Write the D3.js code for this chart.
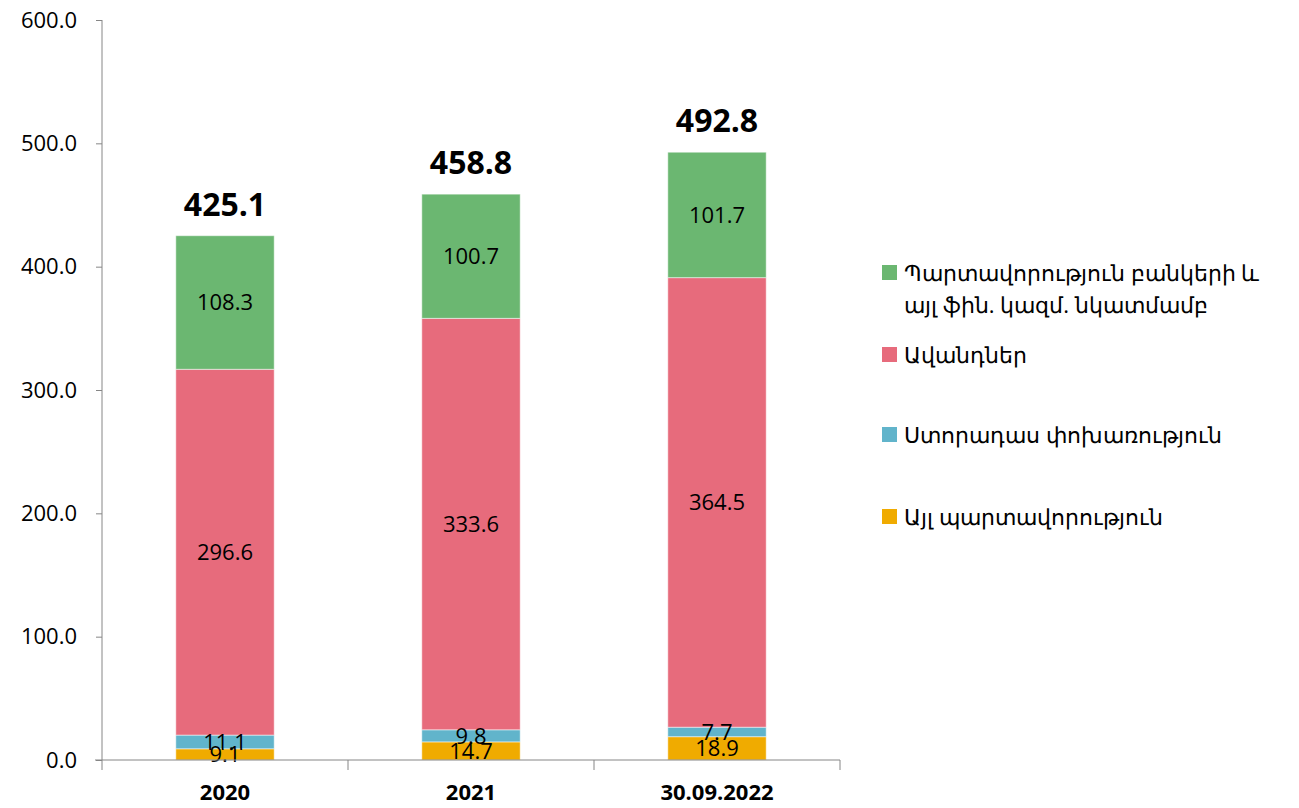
<!DOCTYPE html>
<html>
<head>
<meta charset="utf-8">
<script src="https://cdn.jsdelivr.net/npm/d3@7"></script>
<style>
  body { margin: 0; background: #fff; }
  text { font-family: "Open Sans", sans-serif; }
</style>
</head>
<body>
<div id="vis"></div>
<script>
const categories = ["2020", "2021", "30.09.2022"];
const seriesNames = [
    "Այլ պարտավորություն",
    "Ստորադաս փոխառություն",
    "Ավանդներ",
    "Պարտավորություն բանկերի և այլ ֆին. կազմ. նկատմամբ"
];
const otherLiab = [9.1, 14.7, 18.9];
const subordLoans = [11.1, 9.8, 7.7];
const deposits = [296.6, 333.6, 364.5];
const bankLiab = [108.3, 100.7, 101.7];
const totals = [425.1, 458.8, 492.8];
const yTicks = [0, 100, 200, 300, 400, 500, 600];
const colors = ["#f0ab00", "#61b4cb", "#e76b7c", "#6bb771"];

const width = 1299, height = 808;
const x0 = 102, x1 = 840, yTop = 20, yBottom = 760;

const svg = d3.select("#vis").append("svg")
    .attr("width", width)
    .attr("height", height);

const xScale = d3.scaleBand().domain(categories).range([x0, x1]).paddingInner(0.6).paddingOuter(0.3);
const yScale = d3.scaleLinear().domain([0, 600]).range([yBottom, yTop]);

// stack rows
const rows = categories.map((c, i) => ({
    cat: c, s0: otherLiab[i], s1: subordLoans[i], s2: deposits[i], s3: bankLiab[i]
}));
const stack = d3.stack().keys(["s0", "s1", "s2", "s3"]);
const layers = stack(rows);

// y axis
const yAxis = svg.append("g")
    .attr("transform", `translate(${x0},0)`)
    .call(d3.axisLeft(yScale).tickValues(yTicks).tickFormat(d3.format(".1f")).tickSize(6).tickPadding(19));
yAxis.select(".domain").attr("stroke", "#868686").attr("d", `M0,${yTop}V${yBottom}`);
yAxis.selectAll(".tick line").attr("stroke", "#868686");
yAxis.selectAll(".tick text").attr("font-size", 22).attr("fill", "#000").attr("font-family", "Open Sans");

// bars
const g = svg.append("g");
layers.forEach((layer, k) => {
    g.append("g").attr("fill", colors[k])
      .selectAll("rect")
      .data(layer)
      .join("rect")
        .attr("x", d => xScale(d.data.cat))
        .attr("width", xScale.bandwidth())
        .attr("y", d => yScale(d[1]))
        .attr("height", d => yScale(d[0]) - yScale(d[1]))
        .attr("stroke", "#fff")
        .attr("stroke-opacity", 0.5)
        .attr("stroke-width", 1);
});

// x axis
const xg = svg.append("g");
xg.append("line").attr("x1", x0 - 7).attr("x2", x1).attr("y1", yBottom).attr("y2", yBottom).attr("stroke", "#868686");
d3.range(categories.length + 1).forEach(i => {
    const bx = x0 + i * (x1 - x0) / categories.length;
    xg.append("line").attr("x1", bx).attr("x2", bx).attr("y1", yBottom).attr("y2", yBottom + 10).attr("stroke", "#868686");
});
xg.selectAll("text.cat")
    .data(categories)
    .join("text")
    .attr("x", d => xScale(d) + xScale.bandwidth() / 2)
    .attr("y", 800)
    .attr("text-anchor", "middle")
    .attr("font-size", 22)
    .attr("font-weight", "bold")
    .text(d => d);

// segment labels
layers.forEach((layer, k) => {
    g.append("g")
      .selectAll("text")
      .data(layer)
      .join("text")
        .attr("x", d => xScale(d.data.cat) + xScale.bandwidth() / 2)
        .attr("y", d => (yScale(d[0]) + yScale(d[1])) / 2 + 8)
        .attr("text-anchor", "middle")
        .attr("font-size", 22)
        .attr("fill", "#000")
        .text(d => (d[1] - d[0]).toFixed(1));
});

// totals
svg.append("g").selectAll("text")
    .data(categories)
    .join("text")
    .attr("x", d => xScale(d) + xScale.bandwidth() / 2)
    .attr("y", (d, i) => yScale(totals[i]) - 20)
    .attr("text-anchor", "middle")
    .attr("font-size", 32)
    .attr("font-weight", "bold")
    .text((d, i) => totals[i].toFixed(1));

// legend
const legendItems = [
    {name: seriesNames[3], color: colors[3], lines: ["Պարտավորություն բանկերի և", "այլ ֆին. կազմ. նկատմամբ"], y: 273},
    {name: seriesNames[2], color: colors[2], lines: ["Ավանդներ"], y: 355},
    {name: seriesNames[1], color: colors[1], lines: ["Ստորադաս փոխառություն"], y: 435},
    {name: seriesNames[0], color: colors[0], lines: ["Այլ պարտավորություն"], y: 517}
];
const lg = svg.append("g");
legendItems.forEach(it => {
    lg.append("rect").attr("x", 882).attr("y", it.y - 8).attr("width", 15).attr("height", 15).attr("fill", it.color);
    const t = lg.append("text").attr("x", 904).attr("y", it.y + 8)
        .attr("font-family", "DejaVu Sans").attr("font-size", 22).attr("fill", "#000");
    it.lines.forEach((ln, j) => {
        t.append("tspan").attr("x", 904).attr("dy", j === 0 ? 0 : 32).text(ln);
    });
});
</script>
</body>
</html>
